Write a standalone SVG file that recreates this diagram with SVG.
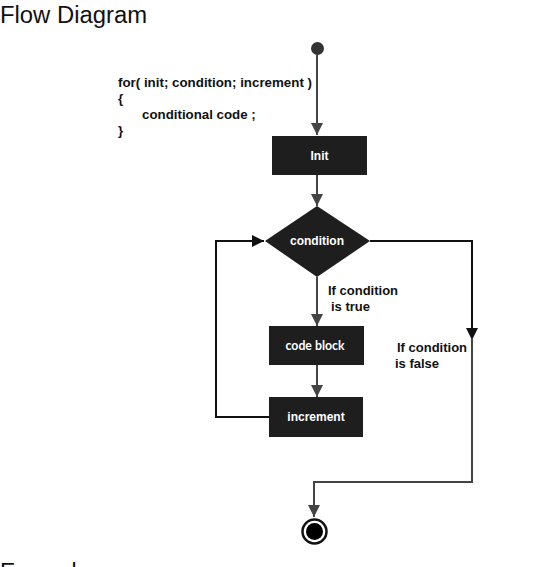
<svg xmlns="http://www.w3.org/2000/svg" width="553" height="567" viewBox="0 0 553 567">
<style>
.box{fill:#1e1e1e}
.lbl{font-family:"Liberation Sans",Arial,sans-serif;font-weight:bold;font-size:12px;fill:#fff;text-anchor:middle}
.note{font-family:"Liberation Sans",Arial,sans-serif;font-weight:bold;font-size:13px;fill:#111}
.code{font-size:13.3px}
.g{fill:none;stroke:#444;stroke-width:2}
.k{fill:none;stroke:#111;stroke-width:2}
.head{font-family:"Liberation Sans",Arial,sans-serif;font-size:23px;fill:#111}
</style>
<defs>
<marker id="ag" viewBox="0 0 12 12" refX="12" refY="6" markerWidth="12" markerHeight="12" markerUnits="userSpaceOnUse" orient="auto"><path d="M0,0 L12,6 L0,12 z" fill="#444"/></marker>
<marker id="ak" viewBox="0 0 12 12" refX="12" refY="6" markerWidth="12" markerHeight="12" markerUnits="userSpaceOnUse" orient="auto"><path d="M0,0 L12,6 L0,12 z" fill="#111"/></marker>
</defs>
<rect width="553" height="567" fill="#fff"/>
<text class="head" x="0" y="23" textLength="147" lengthAdjust="spacingAndGlyphs">Flow Diagram</text>
<text class="head" x="0" y="580">Example</text>
<g id="code">
<text class="note code" x="118" y="87" textLength="194" lengthAdjust="spacingAndGlyphs">for( init; condition; increment )</text>
<text class="note code" x="118" y="103">{</text>
<text class="note code" x="142" y="119">conditional code ;</text>
<text class="note code" x="118" y="135">}</text>
</g>
<g id="connectors">
<path class="g" d="M317,55 V135" marker-end="url(#ag)"/>
<path class="g" d="M317,175 V206" marker-end="url(#ag)"/>
<path class="g" d="M317,277 V326" marker-end="url(#ag)"/>
<path class="g" d="M317,365 V397" marker-end="url(#ag)"/>
<path class="k" d="M269,417 H216 V241 H264" marker-end="url(#ak)"/>
<path class="k" d="M370,241 H472 V340" marker-end="url(#ak)"/>
<path class="g" d="M472,338 V482 H314 V517" marker-end="url(#ag)"/>
<text class="note" x="328" y="295">If condition</text>
<text class="note" x="331" y="311">is true</text>
<text class="note" x="397" y="352">If condition</text>
<text class="note" x="395" y="368">is false</text>
</g>
<g id="start"><circle cx="317.5" cy="48.5" r="6.5" fill="#333"/></g>
<g id="init"><rect class="box" x="272" y="136" width="95" height="39"/><text class="lbl" x="319.5" y="159.5">Init</text></g>
<g id="condition"><polygon class="box" points="317,206 370,241 317,277 265,241"/><text class="lbl" x="317" y="245">condition</text></g>
<g id="codeblock"><rect class="box" x="269" y="326" width="95" height="39"/><text x="315" y="350" font-family="Lato,'Open Sans',sans-serif" font-weight="bold" font-size="14" fill="#fff" text-anchor="middle" textLength="59" lengthAdjust="spacingAndGlyphs">code block</text></g>
<g id="increment"><rect class="box" x="269" y="397" width="94" height="40"/><text class="lbl" x="316" y="421">increment</text></g>
<g id="end"><circle cx="314.5" cy="531.5" r="12" fill="#fff" stroke="#111" stroke-width="2.5"/><circle cx="314.5" cy="531.5" r="8.5" fill="#000"/></g>
</svg>
